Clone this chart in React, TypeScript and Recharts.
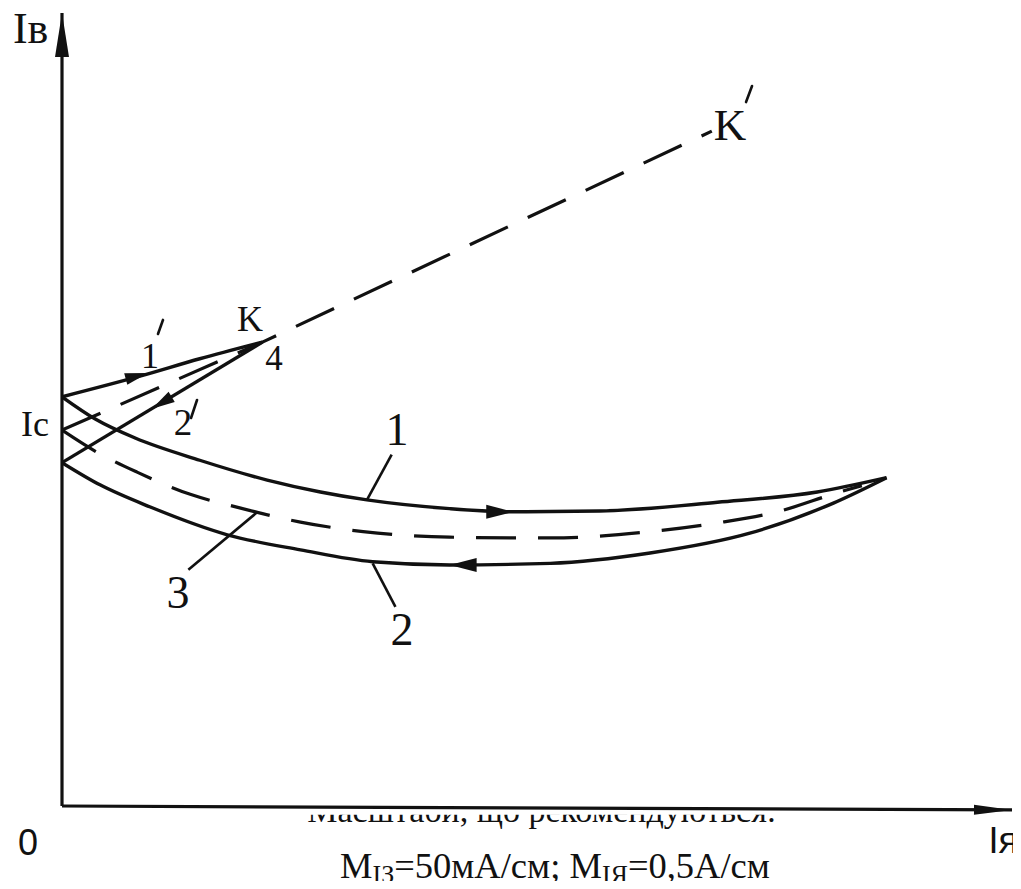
import React from 'react';
import { LineChart, Line, XAxis, YAxis, ReferenceDot, ReferenceLine } from 'recharts';

const WIDTH = 1021;
const HEIGHT = 889;

// Iя along x, Iв along y, both in drawing units (0..10)
const curve1 = [
  { x: 0, y: 5.16 }, { x: 0.35, y: 4.88 }, { x: 0.77, y: 4.64 }, { x: 1.45, y: 4.36 },
  { x: 2.16, y: 4.11 }, { x: 2.72, y: 3.96 }, { x: 3.21, y: 3.86 }, { x: 4.08, y: 3.75 },
  { x: 4.75, y: 3.71 }, { x: 5.66, y: 3.72 }, { x: 6.9, y: 3.83 }, { x: 7.95, y: 3.96 },
  { x: 8.68, y: 4.14 },
];
const curve2 = [
  { x: 0, y: 4.33 }, { x: 0.4, y: 4.05 }, { x: 0.93, y: 3.77 }, { x: 1.74, y: 3.42 },
  { x: 2.51, y: 3.23 }, { x: 3.27, y: 3.08 }, { x: 4.08, y: 3.04 }, { x: 5.14, y: 3.06 },
  { x: 6.19, y: 3.19 }, { x: 7.24, y: 3.44 }, { x: 8.12, y: 3.82 }, { x: 8.68, y: 4.14 },
];
const curve3 = [
  { x: 0, y: 4.74 }, { x: 0.37, y: 4.46 }, { x: 0.79, y: 4.21 }, { x: 1.35, y: 3.93 },
  { x: 1.87, y: 3.76 }, { x: 2.51, y: 3.58 }, { x: 3.17, y: 3.46 }, { x: 4.08, y: 3.39 },
  { x: 5.14, y: 3.38 }, { x: 6.19, y: 3.46 }, { x: 6.9, y: 3.57 }, { x: 7.53, y: 3.71 },
  { x: 8.16, y: 3.95 }, { x: 8.42, y: 4.04 },
];
const curve1p = [{ x: 0, y: 5.16 }, { x: 0.82, y: 5.42 }, { x: 1.45, y: 5.64 }, { x: 2.11, y: 5.85 }];
const curve2p = [{ x: 0, y: 4.33 }, { x: 2.11, y: 5.85 }];
const line4 = [{ x: 0, y: 4.74 }, { x: 2.11, y: 5.85 }, { x: 6.84, y: 8.51 }];

// coordinate axes
const axes = [
  [{ x: 0, y: 0 }, { x: 10, y: -0.05 }],
  [{ x: 0, y: 0 }, { x: 0, y: 10 }],
];

// direction arrows on the curves (tip position, angle in degrees)
const curveArrows = [
  { x: 4.75, y: 3.71, angle: 0, len: 27, half: 7 },
  { x: 4.08, y: 3.04, angle: 180, len: 27, half: 7 },
  { x: 0.905, y: 5.46, angle: -15, len: 23, half: 6 },
  { x: 0.947, y: 5.01, angle: 149, len: 23, half: 6 },
];
const axisArrows = [
  { x: 0, y: 10, angle: -90, len: 44, half: 7 },
  { x: 10, y: -0.05, angle: 0.3, len: 38, half: 5 },
];

// callout leaders for curves 1, 2, 3
const leaders = [
  [{ x: 3.47, y: 4.43 }, { x: 3.21, y: 3.86 }],
  [{ x: 3.27, y: 3.06 }, { x: 3.51, y: 2.51 }],
  [{ x: 2.05, y: 3.7 }, { x: 1.33, y: 2.98 }],
];

// serif labels: text, baseline position, size, optional prime stroke offset
const serifLabels = [
  { text: 'Iв', x: -0.516, y: 9.62, size: 44, anchor: 'start' },
  { text: 'Iс', x: -0.432, y: 4.666, size: 36, anchor: 'start' },
  { text: '1', x: 0.926, y: 5.524, size: 36, anchor: 'middle', prime: [13, -48, 8, -34] },
  { text: '2', x: 1.274, y: 4.678, size: 37, anchor: 'middle', prime: [14, -35, 8, -17] },
  { text: 'K', x: 1.979, y: 5.99, size: 36, anchor: 'middle' },
  { text: '4', x: 2.232, y: 5.498, size: 35, anchor: 'middle' },
  { text: 'K', x: 7.032, y: 8.398, size: 45, anchor: 'middle', prime: [22, -54, 16, -38] },
  { text: '1', x: 3.526, y: 4.552, size: 46, anchor: 'middle' },
  { text: '2', x: 3.579, y: 2.03, size: 46, anchor: 'middle' },
  { text: '3', x: 1.221, y: 2.497, size: 46, anchor: 'middle' },
];
const sansLabels = [
  { text: '0', x: -0.358, y: -0.618, size: 36, anchor: 'middle' },
  { text: 'Iя', x: 10.063, y: -0.593, size: 36, anchor: 'end' },
];
const captionPos = { x: 5.189, y: -0.908 };
const hiddenLinePos = { x: 5.05, y: -0.2 };

const SERIF = '"Liberation Serif", "Times New Roman", serif';
const SANS = '"Liberation Sans", Arial, sans-serif';
const INK = '#111';

const arrowShape = (angle: number, len: number, half: number) => (p: any) => (
  <polygon
    points={`0,0 ${-len},${-half} ${-len},${half}`}
    transform={`translate(${p.cx},${p.cy}) rotate(${angle})`}
    fill={INK}
  />
);

const labelShape = (l: any, family: string) => (p: any) => (
  <g>
    <text x={p.cx} y={p.cy} textAnchor={l.anchor} fontFamily={family} fontSize={l.size} fill={INK}>
      {l.text}
    </text>
    {l.prime && (
      <line
        x1={p.cx + l.prime[0]} y1={p.cy + l.prime[1]}
        x2={p.cx + l.prime[2]} y2={p.cy + l.prime[3]}
        stroke={INK} strokeWidth={2.6} strokeLinecap="round"
      />
    )}
  </g>
);

const captionShape = (p: any) => (
  <text x={p.cx} y={p.cy} textAnchor="middle" fontFamily={SERIF} fontSize={36.5} fill={INK}>
    M<tspan fontSize={26} dy={5}>IЗ</tspan>
    <tspan dy={-5}>=50мА/см; M</tspan>
    <tspan fontSize={26} dy={5}>IЯ</tspan>
    <tspan dy={-5}>=0,5А/см</tspan>
  </text>
);

const hiddenLineShape = (p: any) => (
  <g>
    <defs>
      <clipPath id="under-axis">
        <rect x={0} y={p.cy - 7} width={WIDTH} height={40} />
      </clipPath>
    </defs>
    <text x={p.cx} y={p.cy} textAnchor="middle" fontFamily={SERIF} fontSize={34} fill={INK} clipPath="url(#under-axis)">
      Масштаби, що рекомендуються:
    </text>
  </g>
);

const lineCommon = {
  dataKey: 'y',
  stroke: INK,
  dot: false,
  activeDot: false,
  isAnimationActive: false,
} as const;

export default function App() {
  return (
    <div style={{ margin: -8, width: WIDTH, height: HEIGHT, background: '#fff', overflow: 'hidden' }}>
      <LineChart width={WIDTH} height={HEIGHT} margin={{ top: 13, left: 62, right: 9, bottom: 83 }}>
        <XAxis type="number" dataKey="x" domain={[0, 10]} allowDataOverflow hide />
        <YAxis type="number" dataKey="y" domain={[0, 10]} allowDataOverflow hide />
        {axes.map((seg, i) => (
          <ReferenceLine key={`ax${i}`} segment={seg} stroke={INK} strokeWidth={3.2} ifOverflow="visible" />
        ))}
        <Line {...lineCommon} data={curve1} type="monotone" strokeWidth={3.4} />
        <Line {...lineCommon} data={curve2} type="monotone" strokeWidth={3.4} />
        <Line {...lineCommon} data={curve3} type="monotone" strokeWidth={3.2} strokeDasharray="40 22" />
        <Line {...lineCommon} data={curve1p} type="monotone" strokeWidth={3.4} />
        <Line {...lineCommon} data={curve2p} type="linear" strokeWidth={3.4} />
        <Line {...lineCommon} data={line4} type="linear" strokeWidth={3.2} strokeDasharray="42 22" />

        {leaders.map((seg, i) => (
          <ReferenceLine key={`ld${i}`} segment={seg} stroke={INK} strokeWidth={2.6} ifOverflow="visible" />
        ))}
        {curveArrows.map((a, i) => (
          <ReferenceDot key={`ca${i}`} x={a.x} y={a.y} r={0} ifOverflow="visible" shape={arrowShape(a.angle, a.len, a.half)} />
        ))}
        {axisArrows.map((a, i) => (
          <ReferenceDot key={`aa${i}`} x={a.x} y={a.y} r={0} ifOverflow="visible" shape={arrowShape(a.angle, a.len, a.half)} />
        ))}
        {serifLabels.map((l, i) => (
          <ReferenceDot key={`sl${i}`} x={l.x} y={l.y} r={0} ifOverflow="visible" shape={labelShape(l, SERIF)} />
        ))}
        {sansLabels.map((l, i) => (
          <ReferenceDot key={`ns${i}`} x={l.x} y={l.y} r={0} ifOverflow="visible" shape={labelShape(l, SANS)} />
        ))}
        <ReferenceDot x={hiddenLinePos.x} y={hiddenLinePos.y} r={0} ifOverflow="visible" shape={hiddenLineShape} />
        <ReferenceDot x={captionPos.x} y={captionPos.y} r={0} ifOverflow="visible" shape={captionShape} />
      </LineChart>
    </div>
  );
}
